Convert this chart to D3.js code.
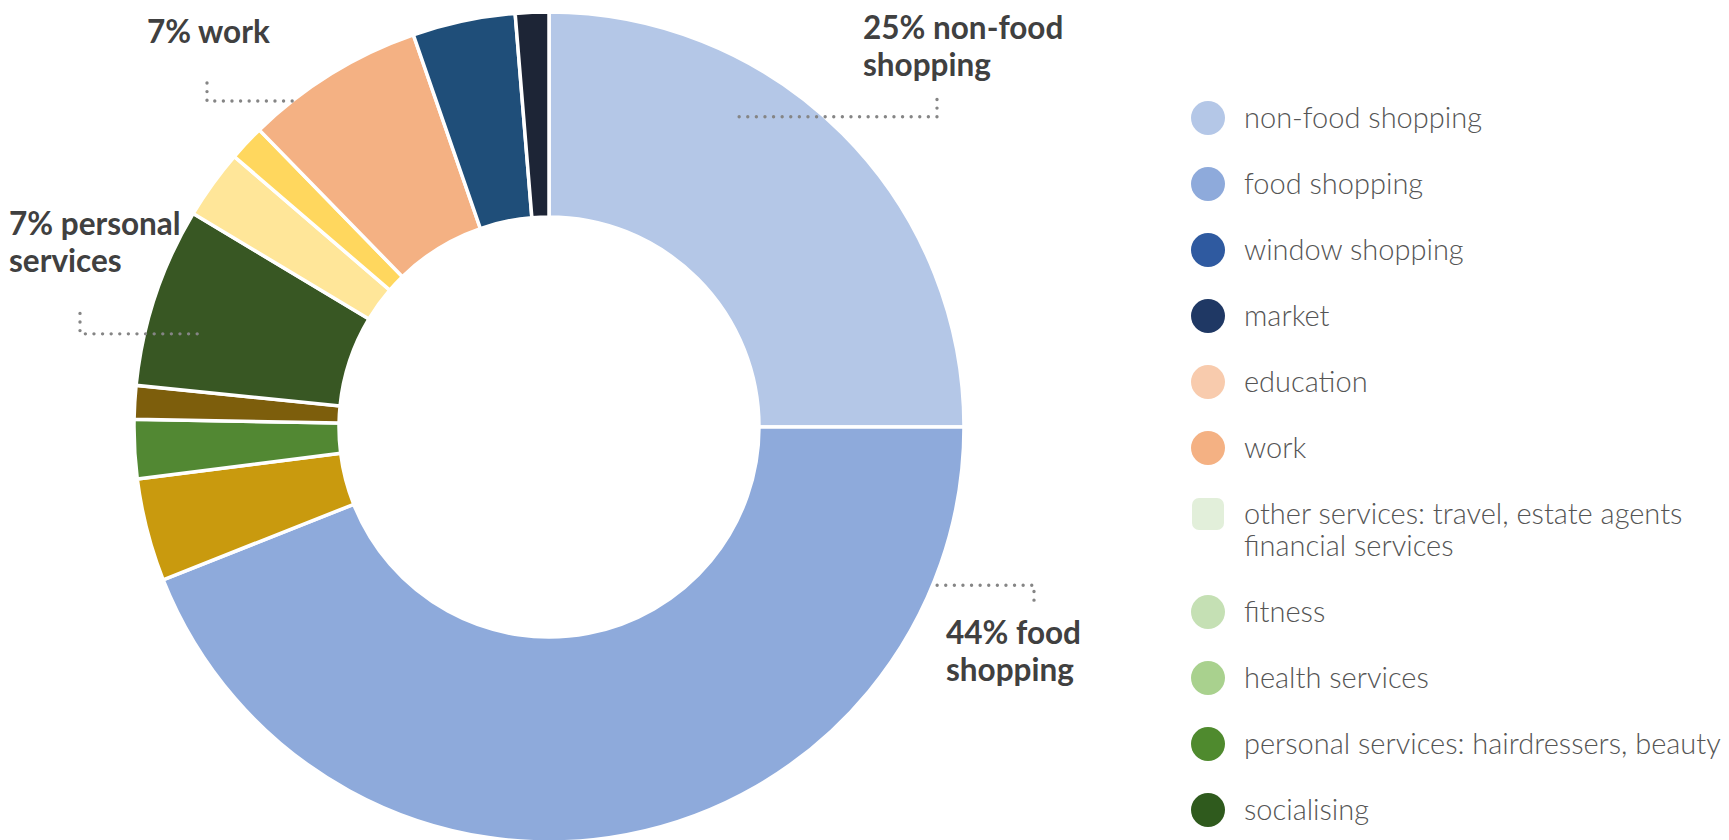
<!DOCTYPE html>
<html>
<head>
<meta charset="utf-8">
<script src="https://cdn.jsdelivr.net/npm/d3@7"></script>
<style>
  html, body { margin: 0; padding: 0; background: #ffffff; }
  svg { display: block; }
</style>
</head>
<body>
<svg id="chart" width="1729" height="840"></svg>
<script>
// Share of trips by purpose (%), slices listed clockwise from 12 o'clock
const sliceNames = [
  "non-food shopping", "food shopping", "unlisted 1", "socialising", "unlisted 2",
  "personal services", "unlisted 3", "unlisted 4", "work", "window shopping", "market"
];
const sliceValues = [25, 44, 4.0, 2.3, 1.3, 7, 2.7, 1.4, 7, 4.0, 1.3];
const sliceColors = [
  "#b4c7e7", "#8eaadb", "#c99a0e", "#528833", "#7d5e0c",
  "#385723", "#ffe699", "#ffd75e", "#f4b183", "#1f4e79", "#1d2536"
];

// Key entries (multi-line labels as arrays)
const legendLabels = [
  ["non-food shopping"], ["food shopping"], ["window shopping"], ["market"],
  ["education"], ["work"], ["other services: travel, estate agents", "financial services"],
  ["fitness"], ["health services"], ["personal services: hairdressers, beauty"], ["socialising"]
];
const legendColors = [
  "#b4c7e7", "#8eaadb", "#2f5aa0", "#1f3864", "#f8cbad", "#f4b183",
  "#e2efda", "#c5e0b4", "#a9d18e", "#4f8a2e", "#2f5a1d"
];

// Callouts: which slice, label lines ({v} = slice value), leader geometry
const callouts = [
  { slice: "non-food shopping", lines: ["{v}% non-food", "shopping"], t: 0.35, rf: 0.877, elbowX: 937, topY: 94,  tx: 863, ty: 39 },
  { slice: "food shopping",     lines: ["{v}% food", "shopping"],     t: 0.14, rf: 1.01,  elbowX: 1034, topY: 607, tx: 946, ty: 644 },
  { slice: "work",              lines: ["{v}% work"],                 t: 0.24, rf: 1.0,   elbowX: 207, topY: 77,  tx: 147, ty: 43 },
  { slice: "personal services", lines: ["{v}% personal", "services"], t: 0.36, rf: 0.877, elbowX: 80,  topY: 312, tx: 9,   ty: 235 }
];

const svg = d3.select("#chart");
const cx = 549, cy = 427, R = 415, R0 = 210;

const data = sliceNames.map((name, i) => ({ name, value: sliceValues[i], color: sliceColors[i] }));

const pie = d3.pie().sort(null).value(d => d.value).startAngle(0).endAngle(2 * Math.PI);
const arcs = pie(data);
const arc = d3.arc().innerRadius(R0).outerRadius(R);

const g = svg.append("g").attr("transform", `translate(${cx},${cy})`);
g.selectAll("path.slice")
  .data(arcs)
  .join("path")
  .attr("class", "slice")
  .attr("d", arc)
  .attr("fill", d => d.data.color)
  .attr("stroke", "#ffffff")
  .attr("stroke-width", 3.5)
  .attr("stroke-linejoin", "miter");

// Dotted leaders and bold labels
const polar = (a, r) => [cx + r * Math.sin(a), cy - r * Math.cos(a)];
const fmt = d3.format("~r");

callouts.forEach(c => {
  const a = arcs.find(d => d.data.name === c.slice);
  const ang = a.startAngle + c.t * (a.endAngle - a.startAngle);
  const [ex, ey] = polar(ang, c.rf * R);
  svg.append("path")
    .attr("d", `M${ex},${ey}H${c.elbowX}V${c.topY}`)
    .attr("fill", "none")
    .attr("stroke", "#858585")
    .attr("stroke-width", 3.4)
    .attr("stroke-linecap", "round")
    .attr("stroke-dasharray", "0 8.6");

  const txt = svg.append("text")
    .attr("x", c.tx)
    .attr("y", c.ty)
    .attr("font-family", "Lato, 'Open Sans', sans-serif")
    .attr("font-weight", 700)
    .attr("font-size", 31.5)
    .attr("fill", "#404040");
  c.lines.forEach((ln, i) => {
    txt.append("tspan")
      .attr("x", c.tx)
      .attr("dy", i === 0 ? 0 : 37)
      .text(ln.replace("{v}", fmt(a.data.value)));
  });
});

// Key
const legend = svg.append("g").attr("transform", "translate(1208,118)");
const rowGap = 66, extraLine = 32;
let y = 0;
legendLabels.forEach((lines, i) => {
  const row = legend.append("g").attr("transform", `translate(0,${y})`);
  if (i === 6) {
    row.append("rect")
      .attr("x", -16).attr("y", -16).attr("width", 32).attr("height", 32)
      .attr("rx", 7)
      .attr("fill", legendColors[i]);
  } else {
    row.append("circle").attr("r", 17).attr("fill", legendColors[i]);
  }
  const t = row.append("text")
    .attr("x", 36)
    .attr("y", 10)
    .attr("font-family", "Lato, 'Open Sans', sans-serif")
    .attr("font-weight", 300)
    .attr("font-size", 29)
    .attr("fill", "#555555");
  lines.forEach((ln, j) => {
    t.append("tspan").attr("x", 36).attr("dy", j === 0 ? 0 : extraLine).text(ln);
  });
  y += rowGap + (lines.length - 1) * extraLine;
});
</script>
</body>
</html>
